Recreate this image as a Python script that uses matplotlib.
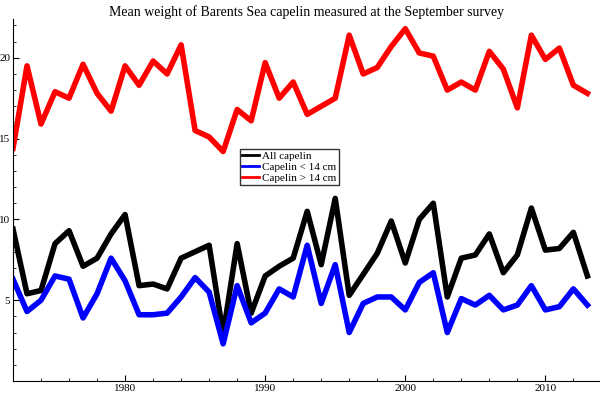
import matplotlib
matplotlib.use("Agg")
import matplotlib.pyplot as plt
from matplotlib.ticker import MultipleLocator

years = list(range(1972, 2014))
all_capelin = [9.4,5.4,5.6,8.5,9.3,7.1,7.6,9.1,10.3,5.9,6.0,5.7,7.6,8.0,8.4,2.9,8.5,4.2,6.5,7.1,7.6,10.5,7.2,11.3,
               5.3,6.6,7.9,9.9,7.3,10.0,11.0,5.2,7.6,7.8,9.1,6.7,7.8,10.7,8.1,8.2,9.2,6.5]
small = [6.3,4.3,5.0,6.5,6.3,3.9,5.4,7.6,6.2,4.1,4.1,4.2,5.2,6.4,5.5,2.3,5.9,3.6,4.2,5.7,5.2,8.4,4.8,7.2,
         3.0,4.8,5.2,5.2,4.4,6.1,6.7,3.0,5.1,4.7,5.3,4.4,4.7,5.9,4.4,4.6,5.7,4.7]
large = [14.4,19.5,15.9,17.9,17.5,19.6,17.8,16.7,19.5,18.3,19.8,19.0,20.8,15.5,15.1,14.2,16.8,16.1,19.7,17.5,18.5,16.5,17.0,17.5,
         21.4,19.0,19.4,20.7,21.8,20.3,20.1,18.0,18.5,18.0,20.4,19.3,16.9,21.4,19.9,20.6,18.3,17.8]

plt.rcParams["font.family"] = "Liberation Serif"
fig = plt.figure(figsize=(6, 4), dpi=100)
ax = fig.add_axes([13/600, 19/400, 587/600, 362/400])
ax.plot(years, all_capelin, color="black", lw=4, label="All capelin")
ax.plot(years, small, color="#0000ff", lw=4, label="Capelin < 14 cm")
ax.plot(years, large, color="#ff0000", lw=4, label="Capelin > 14 cm")
ax.set_xlim(1972, 2013.9)
ax.set_ylim(0, 22.4)
ax.spines["top"].set_visible(False)
ax.spines["right"].set_visible(False)
ax.xaxis.set_major_locator(MultipleLocator(10))
ax.xaxis.set_minor_locator(MultipleLocator(2))
ax.yaxis.set_major_locator(MultipleLocator(5))
ax.yaxis.set_minor_locator(MultipleLocator(1))
ax.set_yticks([5, 10, 15, 20])
ax.set_xticks([1980, 1990, 2000, 2010])
ax.tick_params(labelsize=8, direction="in", length=4, pad=2)
ax.tick_params(which="minor", direction="in", length=2)
ax.set_title("Mean weight of Barents Sea capelin measured at the September survey", fontsize=10, pad=2, y=1.0)
leg = ax.legend(loc="upper left", bbox_to_anchor=(227/587, (381-149)/362), fontsize=8, frameon=True, fancybox=False,
                edgecolor="black", handlelength=1.5, handletextpad=0.3, borderpad=0.2, labelspacing=0.1, borderaxespad=0)
leg.get_frame().set_linewidth(1)
for l in leg.get_lines():
    l.set_linewidth(2)
fig.savefig("out.png", dpi=100)
